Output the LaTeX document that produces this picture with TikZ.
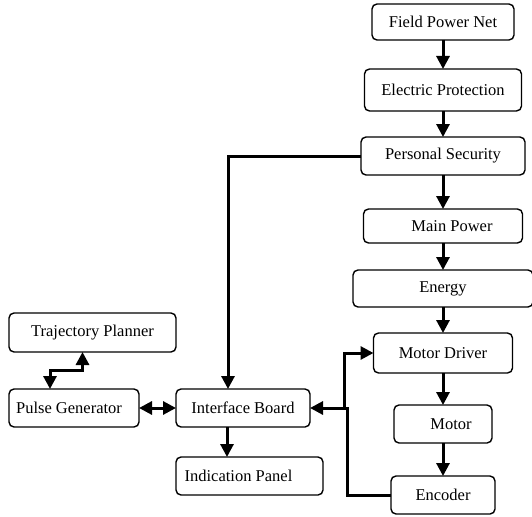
\documentclass[tikz,border=0pt]{standalone}
\usepackage{fontspec}
\setmainfont{Liberation Serif}
\usetikzlibrary{arrows.meta,positioning,calc}

\tikzset{
  block/.style={draw,rounded corners=5pt,line width=1.4pt,inner sep=0pt,outer sep=0pt,
    font=\fontsize{16.5}{18}\selectfont},
  flow/.style={line width=3pt},
}

\begin{document}
\begin{tikzpicture}[>={Triangle[length=13pt,width=13pt]},node distance=28pt]
\useasboundingbox (0,0) rectangle (532pt,-516pt);

\node[block,minimum width=142pt,minimum height=36pt] (fpn) at (443pt,-22pt) {Field Power Net};
\node[block,minimum width=157pt,minimum height=42pt] (ep)  [below=29pt of fpn] {Electric Protection};
\node[block,minimum width=164pt,minimum height=38pt] (ps)  [below=26pt of ep]  {Personal Security};
\node[block,minimum width=159pt,minimum height=34pt] (mp)  [below=34pt of ps]  {\hspace*{18pt}Main Power};
\node[block,minimum width=180pt,minimum height=37pt] (en)  [below=27pt of mp]  {Energy};
\node[block,minimum width=139pt,minimum height=40pt] (md)  [below=26pt of en]  {Motor Driver};
\node[block,minimum width=98pt,minimum height=38pt]  (mo)  [below=32pt of md]  {\hspace*{16pt}Motor};
\node[block,minimum width=104pt,minimum height=38pt] (enc) [below=33pt of mo]  {Encoder};

\node[block,minimum width=134pt,minimum height=38pt] (ib) at (243pt,-408pt) {Interface Board};
\node[block,minimum width=130pt,minimum height=38pt] (pg) [left=37pt of ib] {Pulse Generator\hspace*{10pt}};
\node[block,minimum width=147pt,minimum height=38pt] (ip) [below=30pt of ib.south west,anchor=north west] {Indication Panel\hspace*{22pt}};
\node[block,minimum width=167pt,minimum height=39pt] (tp) [above=37pt of pg.north west,anchor=south west] {Trajectory Planner};

\coordinate (jn) at ($(ib.east)+(34pt,0)$);

\path[->,flow] (fpn) edge (ep)
  (ep) edge (ps)
  (ps) edge (mp)
  (mp) edge (en)
  (en) edge (md)
  (md) edge (mo)
  (mo) edge (enc);

\draw[->,flow] (ps.west) -| ([xshift=-15pt]ib.north);
\draw[->,flow] ([xshift=-16pt]ib.south) -- ([xshift=-16pt]ib.south |- ip.north);
\draw[<->,flow] (pg) -- (ib);
\draw[<->,flow] ([xshift=-24pt]pg.north) -- ++(0,18.5pt) -| ([xshift=-10pt]tp.south);
\draw[->,flow] (jn) -- (ib.east);
\draw[->,flow] (jn) |- (md.west);
\draw[flow] (enc.west) -| ([xshift=3pt]jn) -- (jn);

\end{tikzpicture}
\end{document}
